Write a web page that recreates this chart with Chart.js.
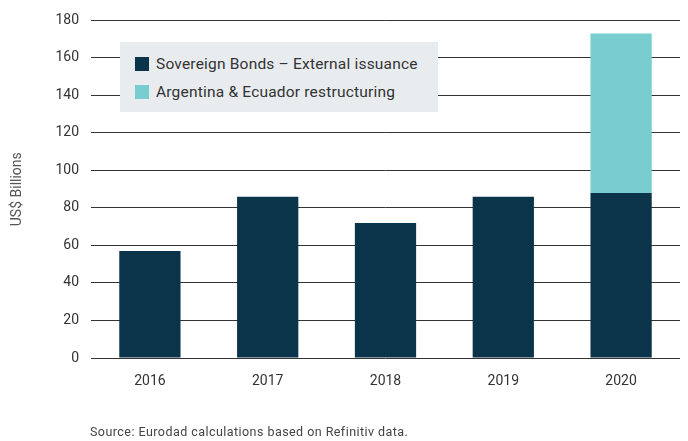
<!DOCTYPE html>
<html>
<head>
<meta charset="utf-8">
<script src="https://cdn.jsdelivr.net/npm/chart.js@4/dist/chart.umd.min.js"></script>
<style>
  html,body{margin:0;padding:0;background:#fff;}
  #wrap{position:relative;width:688px;height:441px;font-family:Roboto,"Noto Sans",sans-serif;}
  canvas{position:absolute;left:0;top:0;}
  #legend{position:absolute;left:120px;top:42px;width:318px;height:70px;background:#e9ecef;box-sizing:border-box;padding:8px 0 0 15px;}
  .item{display:flex;align-items:center;height:28px;font-size:15.5px;color:#333;letter-spacing:0.2px;}
  .sw{width:14px;height:14px;margin-right:7px;}
  #source{position:absolute;left:90px;top:424px;font-size:12.5px;letter-spacing:0.45px;color:#444;}
</style>
</head>
<body>
<div id="wrap">
  <canvas id="c" width="688" height="441"></canvas>
  <div id="legend"></div>
  <div id="source">Source: Eurodad calculations based on Refinitiv data.</div>
</div>
<script>
const categories = ["2016", "2017", "2018", "2019", "2020"];
const sovereignBonds = [57, 86, 72, 86, 88];
const restructuring = [0, 0, 0, 0, 85];
const seriesLabels = ["Sovereign Bonds \u2013 External issuance", "Argentina & Ecuador restructuring"];
const colors = ["#0b3349", "#77cdcf"];

const font = "Roboto, 'Noto Sans', sans-serif";
const chart = new Chart(document.getElementById('c'), {
  type: 'bar',
  data: {
    labels: categories,
    datasets: [
      {label: seriesLabels[0], data: sovereignBonds, backgroundColor: colors[0], barPercentage: 0.52, categoryPercentage: 1},
      {label: seriesLabels[1], data: restructuring, backgroundColor: colors[1], barPercentage: 0.52, categoryPercentage: 1}
    ]
  },
  options: {
    responsive: false,
    animation: false,
    layout: {padding: {top: 18, right: 8, left: 0, bottom: 0}},
    plugins: {legend: {display: false}, tooltip: {enabled: false}},
    scales: {
      x: {
        stacked: true,
        grid: {display: false},
        border: {display: false},
        ticks: {color: '#333', font: {family: font, size: 14}, padding: 7},
        afterFit: s => { s.height = 83; }
      },
      y: {
        stacked: true,
        min: 0, max: 180,
        ticks: {stepSize: 20, color: '#333', font: {family: font, size: 14}, padding: 12},
        grid: {color: '#333', lineWidth: 1, drawTicks: false},
        border: {display: false},
        title: {display: true, text: 'US$ Billions', color: '#555', font: {family: font, size: 14}, padding: {top: 9, bottom: 0}},
        afterFit: s => { s.width = 91; }
      }
    }
  }
});

const lg = document.getElementById('legend');
seriesLabels.forEach((l, i) => {
  const d = document.createElement('div');
  d.className = 'item';
  d.innerHTML = '<span class="sw" style="background:' + colors[i] + '"></span>' + l.replace('&', '&amp;');
  lg.appendChild(d);
});
</script>
</body>
</html>
